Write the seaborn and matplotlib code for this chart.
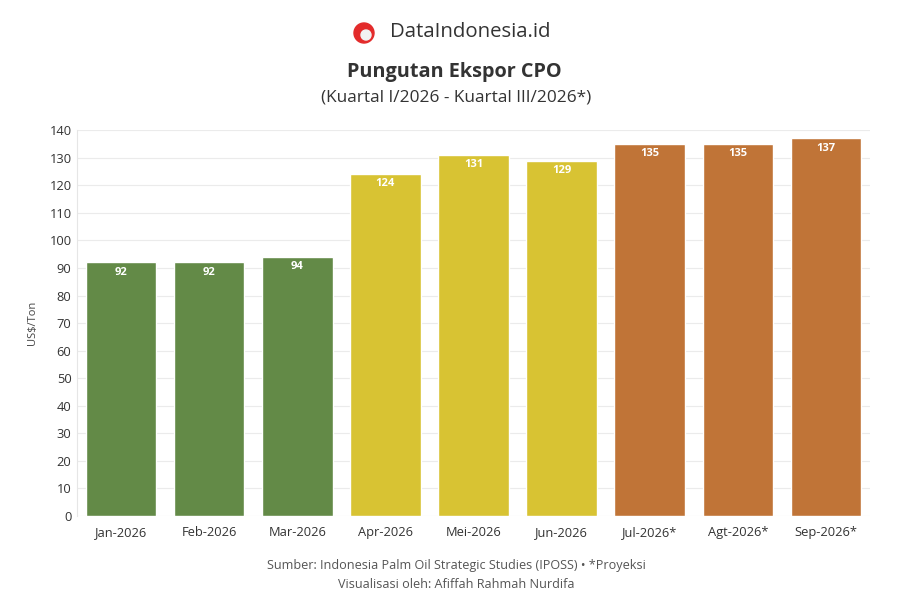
import matplotlib
matplotlib.use('Agg')
import matplotlib.pyplot as plt
import pandas as pd
import seaborn as sns
from matplotlib.patches import Circle

months = ['Jan-2026', 'Feb-2026', 'Mar-2026', 'Apr-2026', 'Mei-2026', 'Jun-2026',
          'Jul-2026*', 'Agt-2026*', 'Sep-2026*']
values = [92, 92, 94, 124, 131, 129, 135, 135, 137]
quarters = ['Q1', 'Q1', 'Q1', 'Q2', 'Q2', 'Q2', 'Q3', 'Q3', 'Q3']
quarter_colors = {'Q1': '#638a47', 'Q2': '#d8c333', 'Q3': '#c07437'}
y_ticks = list(range(0, 141, 10))

df = pd.DataFrame({'Bulan': months, 'Nilai': values, 'Kuartal': quarters})

sns.set_style('whitegrid')
plt.rcParams['font.family'] = ['Open Sans', 'DejaVu Sans']

fig = plt.figure(figsize=(9, 6), dpi=100)
ax = fig.add_axes([0.0856, 0.14, 0.881, 0.643])

sns.barplot(data=df, x='Bulan', y='Nilai', hue='Kuartal', palette=quarter_colors,
            dodge=False, width=0.8, legend=False, ax=ax, saturation=1)

for i, v in enumerate(values):
    ax.text(i, v - 1.5, str(v), ha='center', va='top', color='white',
            fontsize=8, fontweight='bold')

ax.set_xlim(-0.5, 8.5)
ax.set_ylim(0, 140)
ax.set_yticks(y_ticks)
ax.set_xlabel('')
ax.set_ylabel('US$/Ton', fontsize=8, color='#444444', labelpad=8)
ax.grid(axis='x', visible=False)
ax.grid(axis='y', color='#ebebeb', linewidth=0.8)
ax.tick_params(axis='both', labelsize=9.3, colors='#333333', length=0, pad=4)
ax.tick_params(axis='x', length=4, color='#dddddd', pad=3)
for side in ['top', 'right', 'bottom']:
    ax.spines[side].set_visible(False)
ax.spines['left'].set_color('#e6e6e6')

# header
fig.patches.append(Circle((364, 567), 10, transform=None, color='#e32b2b', figure=fig))
fig.patches.append(Circle((366, 565), 5, transform=None, color='#f2f2f2', figure=fig))
fig.text(0.523, 0.947, 'DataIndonesia.id', ha='center', va='center', fontsize=14.7, color='#333333')
fig.text(0.505, 0.88, 'Pungutan Ekspor CPO', ha='center', va='center', fontsize=14.3,
         fontweight='bold', color='#333333')
fig.text(0.507, 0.838, '(Kuartal I/2026 - Kuartal III/2026*)', ha='center', va='center',
         fontsize=12.4, color='#333333')

# footer
fig.text(0.507, 0.057, 'Sumber: Indonesia Palm Oil Strategic Studies (IPOSS) • *Proyeksi',
         ha='center', va='center', fontsize=9.1, color='#555555')
fig.text(0.507, 0.025, 'Visualisasi oleh: Afiffah Rahmah Nurdifa',
         ha='center', va='center', fontsize=9.1, color='#555555')

fig.savefig('out.png', dpi=100)
